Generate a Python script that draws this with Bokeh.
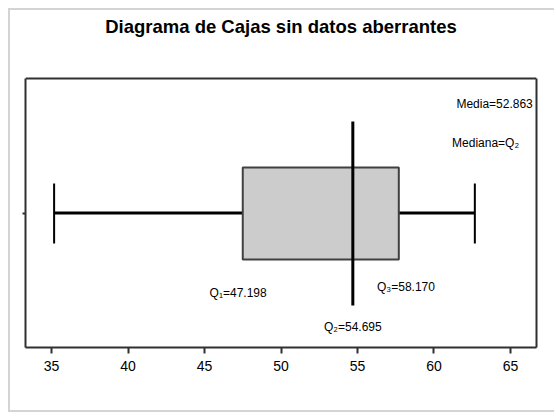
from bokeh.plotting import figure
from bokeh.models import Range1d, FixedTicker, LinearAxis, ColumnDataSource
from bokeh.core.properties import value
from bokeh.embed import file_html
from bokeh.resources import INLINE

# ---- data ----
x_ticks = [35, 40, 45, 50, 55, 60, 65]
whisker_low = [35.17]
box_low = [47.5]
median = [54.695]
box_high = [57.7]
whisker_high = [62.67]
quartile_values = [47.198, 54.695, 58.170]
quartile_labels = ["Q\u2081=47.198", "Q\u2082=54.695", "Q\u2083=58.170"]
mean_label = "Media=52.863"
median_label = "Mediana=Q\u2082"
title_text = "Diagrama de Cajas sin datos aberrantes"

FONT = "Liberation Sans"
X0, X1 = 33.30, 66.70
FRAME_COLOR = "#303030"

p = figure(width=546, height=404, output_backend="svg", toolbar_location=None,
           x_range=Range1d(X0, X1), y_range=Range1d(0, 1.2528),
           min_border_left=15, min_border_right=20, min_border_top=0,
           min_border_bottom=67, x_axis_location=None, y_axis_location=None)
p.grid.visible = False
p.outline_line_color = None
p.background_fill_color = "white"
p.border_fill_color = "white"
p.styles = {"margin-left": "8px", "margin-top": "8px",
            "border-left": "2px solid #d4d4d4", "border-top": "2px solid #d4d4d4",
            "border-bottom": "2px solid #d4d4d4"}

xa = LinearAxis(ticker=FixedTicker(ticks=x_ticks), axis_line_color=FRAME_COLOR, axis_line_width=2,
                major_tick_line_color=FRAME_COLOR, major_tick_line_width=2,
                major_tick_out=6, major_tick_in=0, minor_tick_line_color=None,
                major_label_text_font=FONT, major_label_text_font_size="14px",
                major_label_text_color="black", major_label_standoff=7)
p.add_layout(xa, "below")

ya = LinearAxis(ticker=FixedTicker(ticks=[0.5]), bounds=(0, 1),
                axis_line_color=FRAME_COLOR, axis_line_width=2,
                major_tick_line_color=FRAME_COLOR, major_tick_line_width=2,
                major_tick_out=3, major_tick_in=0, minor_tick_line_color=None,
                major_label_overrides={0.5: ""}, major_label_standoff=0)
p.add_layout(ya, "left")

yr = LinearAxis(ticker=FixedTicker(ticks=[]), bounds=(0, 1),
                axis_line_color=FRAME_COLOR, axis_line_width=2,
                major_tick_line_color=None, minor_tick_line_color=None,
                major_label_standoff=0)
p.add_layout(yr, "right")

# top edge of the plot box
p.segment(x0=[X0], y0=[1], x1=[X1], y1=[1], line_color=FRAME_COLOR, line_width=2)

# title (drawn in data space above the box)
p.text(x=[(X0 + X1) / 2], y=[1.195], text=[title_text], text_font=value(FONT),
       text_font_size="18.5px", text_font_style="bold", text_align="center",
       text_baseline="middle", text_color="black")

# positions (vertical, fraction of the box)
Y_MID = 0.5
BOX_TOP, BOX_BOT = 0.669, 0.327
CAP_TOP, CAP_BOT = 0.61, 0.387
MED_TOP, MED_BOT = 0.84, 0.156

# whiskers
p.segment(x0=whisker_low, y0=[Y_MID], x1=box_low, y1=[Y_MID], line_color="black", line_width=3)
p.segment(x0=box_high, y0=[Y_MID], x1=whisker_high, y1=[Y_MID], line_color="black", line_width=3)
p.segment(x0=whisker_low, y0=[CAP_BOT], x1=whisker_low, y1=[CAP_TOP], line_color="black", line_width=2)
p.segment(x0=whisker_high, y0=[CAP_BOT], x1=whisker_high, y1=[CAP_TOP], line_color="black", line_width=2)

# box
p.quad(left=box_low, right=box_high, bottom=[BOX_BOT], top=[BOX_TOP],
       fill_color="#cccccc", line_color="#404040", line_width=2)

# median
p.segment(x0=median, y0=[MED_BOT], x1=median, y1=[MED_TOP], line_color="black", line_width=3)

# quartile labels
qsrc = ColumnDataSource(dict(x=quartile_values, y=[0.204, 0.078, 0.224], t=quartile_labels))
p.text(x="x", y="y", text="t", source=qsrc, text_font=value(FONT), text_font_size="12px",
       text_align="center", text_baseline="middle", text_color="black")

p.text(x=[63.96], y=[0.907], text=[mean_label], text_font=value(FONT), text_font_size="12px",
       text_align="center", text_baseline="middle", text_color="black")
p.text(x=[63.37], y=[0.762], text=[median_label], text_font=value(FONT), text_font_size="12px",
       text_align="center", text_baseline="middle", text_color="black")

open("out.html", "w").write(file_html(p, INLINE))
